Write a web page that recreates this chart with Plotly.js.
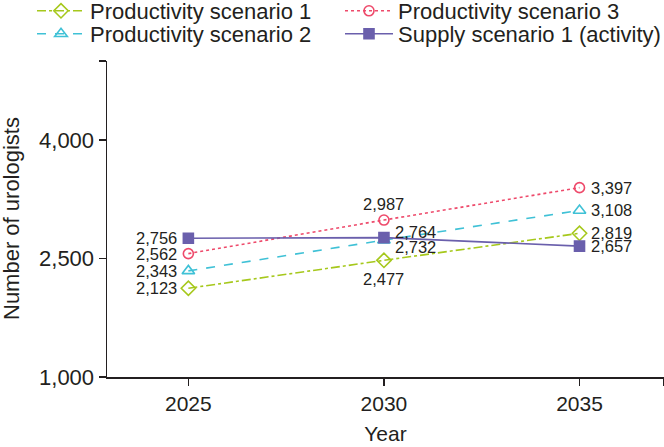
<!DOCTYPE html>
<html>
<head>
<meta charset="utf-8">
<script src="https://cdn.plot.ly/plotly-3.0.1.min.js"></script>
<style>html,body{margin:0;padding:0;background:#fff;}#chart{width:664px;height:447px;}</style>
</head>
<body>
<div id="chart"></div>
<script>
// ---- data ----
const years = [2025, 2030, 2035];
const seriesNames = ["Productivity scenario 1", "Productivity scenario 2", "Productivity scenario 3", "Supply scenario 1 (activity)"];
const prod1 = [2123, 2477, 2819];
const prod2 = [2343, 2732, 3108];
const prod3 = [2562, 2987, 3397];
const supply1 = [2756, 2764, 2657];
const yTickVals = [1000, 2500, 4000, 5000];
const yTickText = ["1,000", "2,500", "4,000", ""];
const xTickVals = [2025, 2030, 2035, 2037.15];
const xTickText = ["2025", "2030", "2035", ""];
const xTitle = "Year";
const yTitle = "Number of urologists";

// ---- styles ----
const values = [prod1, prod2, prod3, supply1];
const colors = ["#a6c81c", "#3fc1d6", "#ee4a6b", "#6a5fac"];
const dashes = ["dashdot", "dash", "dot", "solid"];
const symbols = ["diamond-open", "triangle-up-open", "circle-open", "square"];
const msizes = [11, 11, 10, 10];
// legend slot per series: [legend id, x (container px), y center (container px)]
const legendSlots = [["legend", 32, 11], ["legend2", 32, 34], ["legend3", 340, 11], ["legend4", 340, 34]];
// label placement per series per point: [side, extra yshift]
const labelPos = [
  [["left", 0], ["bottom", 0], ["right", 0]],
  [["left", 0], ["right", -7], ["right", 0]],
  [["left", 0], ["top", 0], ["right", 0]],
  [["left", 0], ["right", 6], ["right", 0]]
];

const W = 664, H = 447;
const M = {l: 107, r: 0, t: 61, b: 70};
const fontFam = "Liberation Sans, Arial, sans-serif";
const ink = "#231f20";

const traces = values.map((v, i) => ({
  type: "scatter",
  mode: "lines+markers",
  x: years,
  y: v,
  name: seriesNames[i],
  legend: legendSlots[i][0],
  line: {color: colors[i], width: 1.6, dash: dashes[i]},
  marker: {symbol: symbols[i], size: msizes[i], color: colors[i], line: {color: colors[i], width: 1.6}},
  cliponaxis: false
}));

const fmt = n => n.toLocaleString("en-US");
const annotations = [];
values.forEach((v, i) => {
  v.forEach((val, j) => {
    const [side, ys] = labelPos[i][j];
    const a = {x: years[j], y: val, xref: "x", yref: "y", text: fmt(val), showarrow: false,
      font: {family: fontFam, size: 16.5, color: ink}, xshift: 0, yshift: ys};
    if (side === "left") { a.xanchor = "right"; a.yanchor = "middle"; a.xshift = -9; }
    if (side === "right") { a.xanchor = "left"; a.yanchor = "middle"; a.xshift = 9; }
    if (side === "top") { a.xanchor = "center"; a.yanchor = "bottom"; a.yshift = 5; }
    if (side === "bottom") { a.xanchor = "center"; a.yanchor = "top"; a.yshift = -8; }
    annotations.push(a);
  });
});
// y-axis title as a rotated annotation
annotations.push({
  xref: "paper", yref: "paper", x: (11 - M.l) / (W - M.l - M.r), y: 0.5,
  xanchor: "center", yanchor: "middle", textangle: -90, showarrow: false,
  text: yTitle, font: {family: fontFam, size: 22, color: ink}
});

const layout = {
  width: W, height: H,
  margin: Object.assign({autoexpand: false}, M),
  paper_bgcolor: "#fff", plot_bgcolor: "#fff",
  font: {family: fontFam, color: ink, size: 22},
  showlegend: true,
  xaxis: {
    range: [2022.92, 2037.16], tickvals: xTickVals, ticktext: xTickText,
    showgrid: false, zeroline: false, showline: true, linecolor: ink, linewidth: 1.5,
    ticks: "outside", ticklen: 7, tickwidth: 1.5, tickcolor: ink,
    tickfont: {family: fontFam, size: 21, color: ink},
    title: {text: xTitle, font: {family: fontFam, size: 21, color: ink}, standoff: 12}
  },
  yaxis: {
    range: [1000, 5000], tickvals: yTickVals, ticktext: yTickText,
    showgrid: false, zeroline: false, showline: true, linecolor: ink, linewidth: 1.5,
    ticks: "outside", ticklen: 7, tickwidth: 1.5, tickcolor: ink,
    tickfont: {family: fontFam, size: 22, color: ink}
  },
  annotations: annotations
};
legendSlots.forEach(([id, lx, ly]) => {
  layout[id] = {
    orientation: "v", xref: "container", yref: "container",
    x: lx / W, y: 1 - ly / H, xanchor: "left", yanchor: "middle",
    font: {family: fontFam, size: 22, color: ink},
    itemwidth: 48, bgcolor: "rgba(0,0,0,0)", borderwidth: 0
  };
});

Plotly.newPlot("chart", traces, layout, {displayModeBar: false, staticPlot: true});
</script>
</body>
</html>
